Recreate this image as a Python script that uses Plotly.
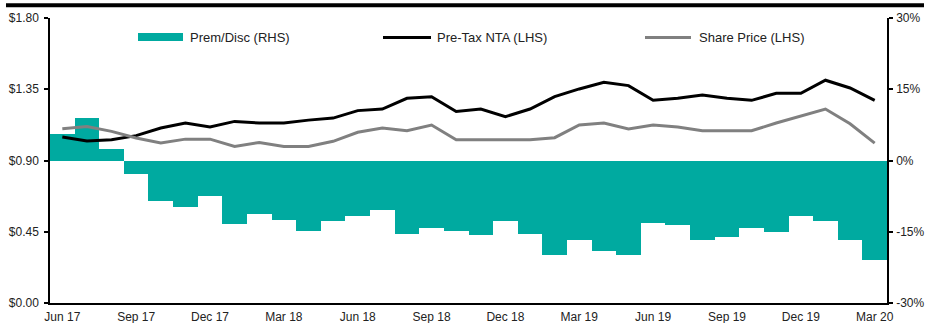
import plotly.graph_objects as go

# Monthly observations, Jun 2017 – Mar 2020
months = [
    "Jun 17", "Jul 17", "Aug 17", "Sep 17", "Oct 17", "Nov 17", "Dec 17",
    "Jan 18", "Feb 18", "Mar 18", "Apr 18", "May 18", "Jun 18", "Jul 18",
    "Aug 18", "Sep 18", "Oct 18", "Nov 18", "Dec 18", "Jan 19", "Feb 19",
    "Mar 19", "Apr 19", "May 19", "Jun 19", "Jul 19", "Aug 19", "Sep 19",
    "Oct 19", "Nov 19", "Dec 19", "Jan 20", "Feb 20", "Mar 20",
]

# Premium / discount of share price to pre-tax NTA (right axis)
prem_disc = [
    0.056, 0.090, 0.025, -0.029, -0.086, -0.097, -0.075,
    -0.134, -0.112, -0.126, -0.148, -0.127, -0.116, -0.105,
    -0.154, -0.143, -0.149, -0.157, -0.127, -0.154, -0.198,
    -0.168, -0.190, -0.198, -0.131, -0.136, -0.168, -0.161,
    -0.143, -0.150, -0.117, -0.127, -0.168, -0.209,
]

# Pre-tax net tangible assets per share (left axis, $)
pre_tax_nta = [
    1.048, 1.023, 1.031, 1.057, 1.105, 1.137, 1.112,
    1.147, 1.137, 1.137, 1.155, 1.168, 1.215, 1.225,
    1.293, 1.303, 1.210, 1.225, 1.177, 1.225, 1.303,
    1.352, 1.394, 1.373, 1.280, 1.293, 1.314, 1.293,
    1.280, 1.324, 1.324, 1.407, 1.358, 1.280,
]

# Share price (left axis, $)
share_price = [
    1.101, 1.115, 1.084, 1.042, 1.010, 1.035, 1.035,
    0.989, 1.014, 0.989, 0.989, 1.021, 1.078, 1.105,
    1.088, 1.124, 1.031, 1.031, 1.031, 1.031, 1.044,
    1.124, 1.137, 1.099, 1.124, 1.112, 1.088, 1.088,
    1.088, 1.137, 1.183, 1.225, 1.132, 1.010,
]

x_ticks = months[::3]
left_ticks = [0.0, 0.45, 0.90, 1.35, 1.80]
right_ticks = [-0.30, -0.15, 0.0, 0.15, 0.30]
right_tick_labels = ["-30%", "-15%", "0%", "15%", "30%"]

TEAL = "#00AAA0"
GREY = "#808080"
FONT = "Liberation Sans, Arial, sans-serif"
TXT = "#222222"

fig = go.Figure()

fig.add_trace(go.Bar(
    x=months, y=prem_disc, name="Prem/Disc (RHS)",
    marker=dict(color=TEAL, line=dict(width=0)),
    yaxis="y", showlegend=False,
))
fig.add_trace(go.Scatter(
    x=months, y=pre_tax_nta, name="Pre-Tax NTA (LHS)", mode="lines",
    line=dict(color="#000000", width=3), yaxis="y2", showlegend=False,
))
fig.add_trace(go.Scatter(
    x=months, y=share_price, name="Share Price (LHS)", mode="lines",
    line=dict(color=GREY, width=3), yaxis="y2", showlegend=False,
))

# Plot area spans x 50..887, y 18..303 px
L, R, T, B = 50, 887, 18, 303
W, H = 925, 323
pw, ph = R - L, B - T


def px(xp):
    return (xp - L) / pw


def py(yp):
    return (B - yp) / ph


shapes = [
    # heavy rule across the top
    dict(type="rect", xref="paper", yref="paper",
         x0=px(6), x1=px(924), y0=py(7.3), y1=py(3.3),
         fillcolor="#000000", line=dict(width=0), layer="above"),
    # legend swatches
    dict(type="rect", xref="paper", yref="paper",
         x0=px(138), x1=px(183), y0=py(41), y1=py(33),
         fillcolor=TEAL, line=dict(width=0)),
    dict(type="line", xref="paper", yref="paper",
         x0=px(383), x1=px(431), y0=py(37.5), y1=py(37.5),
         line=dict(color="#000000", width=3)),
    dict(type="line", xref="paper", yref="paper",
         x0=px(645), x1=px(691), y0=py(37.5), y1=py(37.5),
         line=dict(color=GREY, width=3)),
]

annotations = []
for xp, label in [(188, "Prem/Disc (RHS)"), (435, "Pre-Tax NTA (LHS)"),
                  (697, "Share Price (LHS)")]:
    annotations.append(dict(
        xref="paper", yref="paper", x=px(xp), y=py(37.5),
        text=label, showarrow=False, xanchor="left", yanchor="middle",
        font=dict(family=FONT, size=13, color=TXT),
    ))

fig.update_layout(
    width=W, height=H,
    margin=dict(l=L, r=W - R, t=T, b=H - B, pad=0, autoexpand=False),
    paper_bgcolor="white", plot_bgcolor="white",
    bargap=0,
    font=dict(family=FONT, size=12, color=TXT),
    xaxis=dict(
        type="category", range=[-0.5, len(months) - 0.5],
        tickmode="array", tickvals=x_ticks, ticktext=x_ticks,
        showline=True, linecolor="#000000", linewidth=1.5,
        ticks="", showgrid=False, zeroline=False, automargin=False,
        ticklabelstandoff=2,
        tickfont=dict(family=FONT, size=12, color=TXT),
    ),
    yaxis=dict(
        side="right", range=[-0.30, 0.30],
        tickmode="array", tickvals=right_ticks, ticktext=right_tick_labels,
        showline=True, linecolor="#000000", linewidth=1.5,
        ticks="outside", ticklen=4, tickcolor="#000000", tickwidth=1.5,
        ticklabelstandoff=1,
        showgrid=False, zeroline=False, automargin=False,
        tickfont=dict(family=FONT, size=12, color=TXT),
    ),
    yaxis2=dict(
        side="left", overlaying="y", range=[0, 1.80],
        tickmode="array", tickvals=left_ticks, tickformat="$.2f",
        showline=True, linecolor="#000000", linewidth=1.5,
        ticks="outside", ticklen=4, tickcolor="#000000", tickwidth=1.5,
        ticklabelstandoff=3,
        showgrid=False, zeroline=False, automargin=False,
        tickfont=dict(family=FONT, size=12, color=TXT),
    ),
    shapes=shapes,
    annotations=annotations,
)

fig.write_html("out.html")
